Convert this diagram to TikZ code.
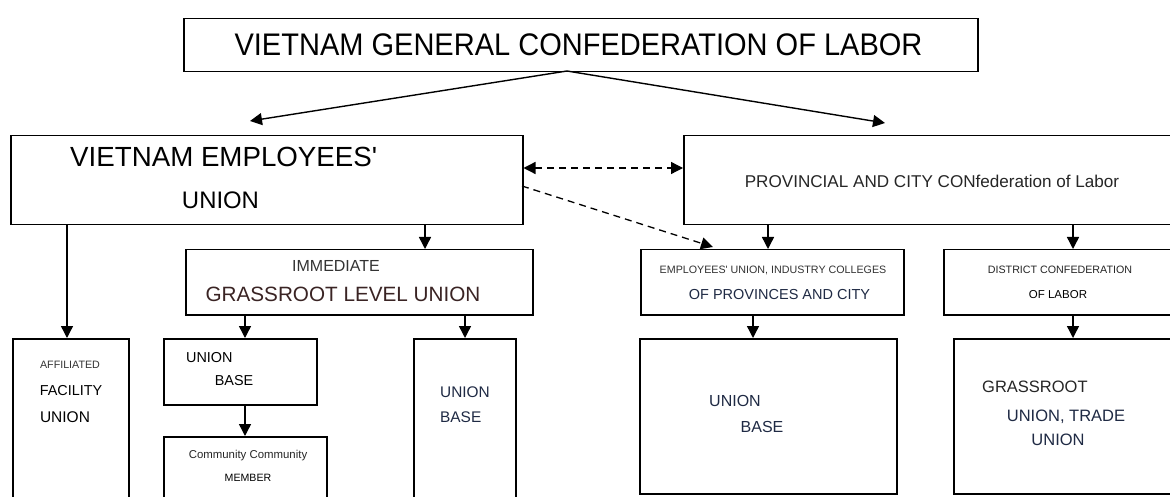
\documentclass[tikz,border=0pt]{standalone}
\usepackage{fontspec}
\setmainfont{Liberation Sans}
\usetikzlibrary{arrows.meta}
\definecolor{navy}{HTML}{1F2A44}
\definecolor{brownish}{HTML}{3A2424}
\begin{document}
\begin{tikzpicture}[x=1pt,y=-1pt,
  box/.style={draw=black,line width=1.5pt,fill=white,anchor=north west,inner sep=0pt},
  txt/.style={inner sep=0pt,anchor=center},
  arr/.style={-{Triangle[length=12pt,width=12pt]},line width=1.4pt},
  darr/.style={{Triangle[length=12pt,width=12pt]}-{Triangle[length=12pt,width=12pt]},line width=1.3pt,dash pattern=on 7pt off 5pt},
  sarr/.style={-{Triangle[length=12pt,width=12pt]},line width=1.3pt,dash pattern=on 7pt off 5pt}]
\useasboundingbox[fill=white] (0,0) rectangle (1170,497);
% boxes
\node[box,minimum width=794pt,minimum height=53pt] (top) at (183,18) {};
\node[box,minimum width=512pt,minimum height=89pt] (veu) at (10,135) {};
\node[box,minimum width=500pt,minimum height=89pt] (pcc) at (683,135) {};
\node[box,minimum width=347pt,minimum height=65pt] (igl) at (185,249) {};
\node[box,minimum width=116pt,minimum height=170pt] (aff) at (12,338) {};
\node[box,minimum width=153pt,minimum height=66pt] (ub1) at (163,338) {};
\node[box,minimum width=163pt,minimum height=70pt] (com) at (163,436) {};
\node[box,minimum width=102pt,minimum height=170pt] (ub2) at (413,338) {};
\node[box,minimum width=263pt,minimum height=65pt] (eup) at (640,249) {};
\node[box,minimum width=240pt,minimum height=65pt] (dcl) at (943,249) {};
\node[box,minimum width=257pt,minimum height=155pt] (ub3) at (639,338) {};
\node[box,minimum width=240pt,minimum height=155pt] (grt) at (953,338) {};
% texts
\node[txt,font=\fontsize{31.2}{31.2}\selectfont,xscale=0.93] (tTop) at (578.5,45) {VIETNAM GENERAL CONFEDERATION OF LABOR};
\node[txt,font=\fontsize{27.7}{27.7}\selectfont,anchor=west] (tVeu1) at (70,157) {VIETNAM EMPLOYEES\textquotesingle};
\node[txt,font=\fontsize{23.9}{23.9}\selectfont] (tVeu2) at (220.5,200) {UNION};
\node[txt,font=\fontsize{17.1}{17.1}\selectfont,text=black!85] (tPcc) at (932,181) {PROVINCIAL AND CITY CONfederation of Labor};
\node[txt,font=\fontsize{16}{16}\selectfont,text=black!80] (tIgl1) at (336,266) {IMMEDIATE};
\node[txt,font=\fontsize{20.7}{20.7}\selectfont,text=brownish] (tIgl2) at (343,294) {GRASSROOT LEVEL UNION};
\node[txt,font=\fontsize{10.7}{10.7}\selectfont,text=black!80] (tAff1) at (70,365) {AFFILIATED};
\node[txt,font=\fontsize{14.4}{14.4}\selectfont] (tAff2) at (71,391) {FACILITY};
\node[txt,font=\fontsize{15.5}{15.5}\selectfont] (tAff3) at (65,417) {UNION};
\node[txt,font=\fontsize{14.4}{14.4}\selectfont,anchor=west] (tUb1a) at (186,358) {UNION};
\node[txt,font=\fontsize{14.4}{14.4}\selectfont] (tUb1b) at (234,381) {BASE};
\node[txt,font=\fontsize{11.4}{11.4}\selectfont,text=black!85] (tCom1) at (248,456) {Community Community};
\node[txt,font=\fontsize{10.6}{10.6}\selectfont] (tCom2) at (248,478) {MEMBER};
\node[txt,font=\fontsize{15.4}{15.4}\selectfont,text=navy,anchor=west] (tUb2a) at (440,392) {UNION};
\node[txt,font=\fontsize{15.4}{15.4}\selectfont,text=navy,anchor=west] (tUb2b) at (440,417) {BASE};
\node[txt,font=\fontsize{10.7}{10.7}\selectfont,text=black!80] (tEup1) at (773,270) {EMPLOYEES\textquotesingle{} UNION, INDUSTRY COLLEGES};
\node[txt,font=\fontsize{14.5}{14.5}\selectfont,text=navy] (tEup2) at (779.5,295) {OF PROVINCES AND CITY};
\node[txt,font=\fontsize{10.7}{10.7}\selectfont,text=black!85] (tDcl1) at (1060,270) {DISTRICT CONFEDERATION};
\node[txt,font=\fontsize{11.5}{11.5}\selectfont] (tDcl2) at (1058,295) {OF LABOR};
\node[txt,font=\fontsize{16}{16}\selectfont,text=navy,anchor=west] (tUb3a) at (709,401) {UNION};
\node[txt,font=\fontsize{16}{16}\selectfont,text=navy] (tUb3b) at (762,427) {BASE};
\node[txt,font=\fontsize{16.5}{16.5}\selectfont,text=black!85,anchor=west] (tGrt1) at (982,387) {GRASSROOT};
\node[txt,font=\fontsize{16.5}{16.5}\selectfont,text=navy] (tGrt2) at (1066,417) {UNION, TRADE};
\node[txt,font=\fontsize{16.5}{16.5}\selectfont,text=navy] (tGrt3) at (1058,440) {UNION};
% connectors
\coordinate (topS) at (567,71);
\coordinate (veuN) at (250,121);
\coordinate (pccN) at (885,123);
\draw[arr] (topS) -- (veuN);
\draw[arr] (topS) -- (pccN);
\draw[darr] (veu.east |- 0,168) -- (pcc.west |- 0,168);
\coordinate (dashS) at (522,186);
\coordinate (dashE) at (713,247);
\draw[sarr] (dashS) -- (dashE);
\draw[arr] (veu.south -| 425,0) -- (igl.north -| 425,0);
\draw[arr] (veu.south -| 67,0) -- (aff.north -| 67,0);
\draw[arr] (igl.south -| 245,0) -- (ub1.north -| 245,0);
\draw[arr] (ub1.south -| 245,0) -- (com.north -| 245,0);
\draw[arr] (igl.south -| 465,0) -- (ub2.north -| 465,0);
\draw[arr] (pcc.south -| 768,0) -- (eup.north -| 768,0);
\draw[arr] (pcc.south -| 1073,0) -- (dcl.north -| 1073,0);
\draw[arr] (eup.south -| 753,0) -- (ub3.north -| 753,0);
\draw[arr] (dcl.south -| 1073,0) -- (grt.north -| 1073,0);
\end{tikzpicture}
\end{document}
